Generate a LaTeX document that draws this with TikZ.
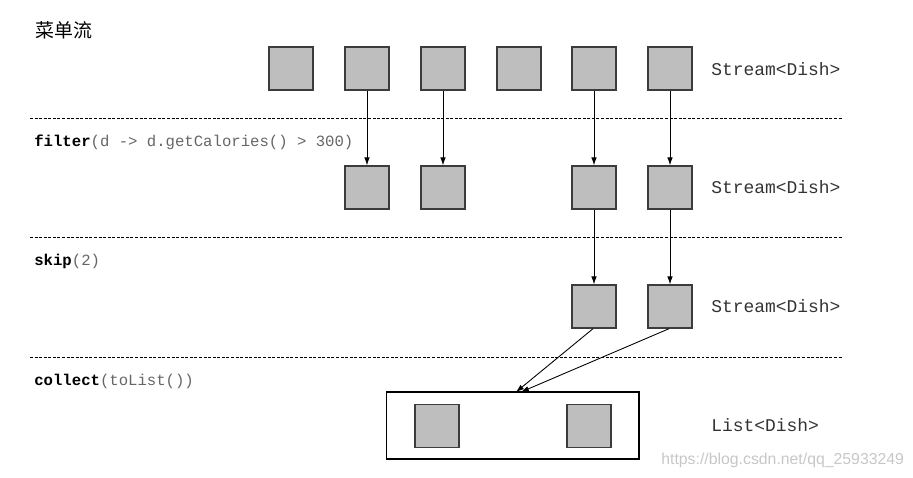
\documentclass[tikz,border=0pt]{standalone}
\usepackage{fontspec}
\setmonofont{Liberation Mono}
\newfontfamily\cjk{Noto Sans CJK SC}
\newfontfamily\wmfont{Liberation Sans}
\usetikzlibrary{arrows.meta}
\definecolor{dishfill}{HTML}{BEBEBE}
\definecolor{dishline}{HTML}{3C3C3C}
\definecolor{typetext}{HTML}{333333}
\definecolor{argtext}{HTML}{666666}

\tikzset{
  dish/.style={draw=dishline, fill=dishfill, line width=0.8pt,
    minimum width=0.88cm, minimum height=0.86cm, inner sep=0pt},
  flow/.style={-{Latex[length=4.5pt,width=3.2pt]}, line width=0.5pt},
  stage/.style={dash pattern=on 1.7pt off 0.9pt, line width=0.5pt},
  typelbl/.style={anchor=west, inner sep=0pt, text=typetext, font=\ttfamily\fontsize{10.2pt}{12pt}\selectfont},
  oplbl/.style={anchor=west, inner sep=0pt, text=argtext, font=\ttfamily\fontsize{8.9pt}{11pt}\selectfont}
}

\begin{document}
\begin{tikzpicture}[x=0.02cm, y=-0.02cm]
      \useasboundingbox (0,0) rectangle (913,477);

      % Title
      \node[anchor=west, inner sep=0pt, font=\cjk\fontsize{10.8pt}{13pt}\selectfont] (title) at (35,30) {菜单流};

      % Stage separators
      \draw[stage] (30,118) -- (842,118);
      \draw[stage] (30,237) -- (842,237);
      \draw[stage] (30,357) -- (842,357);

      % Operation labels
      \node[oplbl] (opfilter) at (34,142) {\textcolor{black}{\textbf{filter}}(d -> d.getCalories() > 300)};
      \node[oplbl] (opskip) at (34,261) {\textcolor{black}{\textbf{skip}}(2)};
      \node[oplbl] (opcollect) at (34,381) {\textcolor{black}{\textbf{collect}}(toList())};

      % Menu stream
      \node[dish] (s1) at (291,68.5) {};
      \node[dish] (s2) at (367,68.5) {};
      \node[dish] (s3) at (443,68.5) {};
      \node[dish] (s4) at (519,68.5) {};
      \node[dish] (s5) at (594,68.5) {};
      \node[dish] (s6) at (670,68.5) {};
      \node[typelbl] (t1) at (711,69) {Stream<Dish>};

      % After filter
      \node[dish] (f2) at (367,187.5) {};
      \node[dish] (f3) at (443,187.5) {};
      \node[dish] (f5) at (594,187.5) {};
      \node[dish] (f6) at (670,187.5) {};
      \node[typelbl] (t2) at (711,187) {Stream<Dish>};

      % After skip
      \node[dish] (k5) at (594,306.5) {};
      \node[dish] (k6) at (670,306.5) {};
      \node[typelbl] (t3) at (711,306) {Stream<Dish>};

      % Resulting list
      \node[draw, line width=0.6pt, minimum width=5.06cm, minimum height=1.34cm, inner sep=0pt] (list) at (512.5,425.5) {};
      \node[dish] (l1) at (437,426) {};
      \node[dish] (l2) at (589,426) {};
      \node[typelbl] (t4) at (711,425) {List<Dish>};
      \coordinate (in1) at (516,392);
      \coordinate (in2) at (521,392);

      % Connectors
      \draw[flow] (s2) -- (f2);
      \draw[flow] (s3) -- (f3);
      \draw[flow] (s5) -- (f5);
      \draw[flow] (s6) -- (f6);
      \draw[flow] (f5) -- (k5);
      \draw[flow] (f6) -- (k6);
      \draw[flow] ([xshift=-0.02cm]k5.south) -- (in1);
      \draw[flow] ([xshift=-0.02cm]k6.south) -- (in2);

      % Watermark
      \node[anchor=west, inner sep=0pt, text=black!22, font=\wmfont\fontsize{9pt}{11pt}\selectfont] (mark) at (661,460) {https://blog.csdn.net/qq\_25933249};
\end{tikzpicture}
\end{document}
